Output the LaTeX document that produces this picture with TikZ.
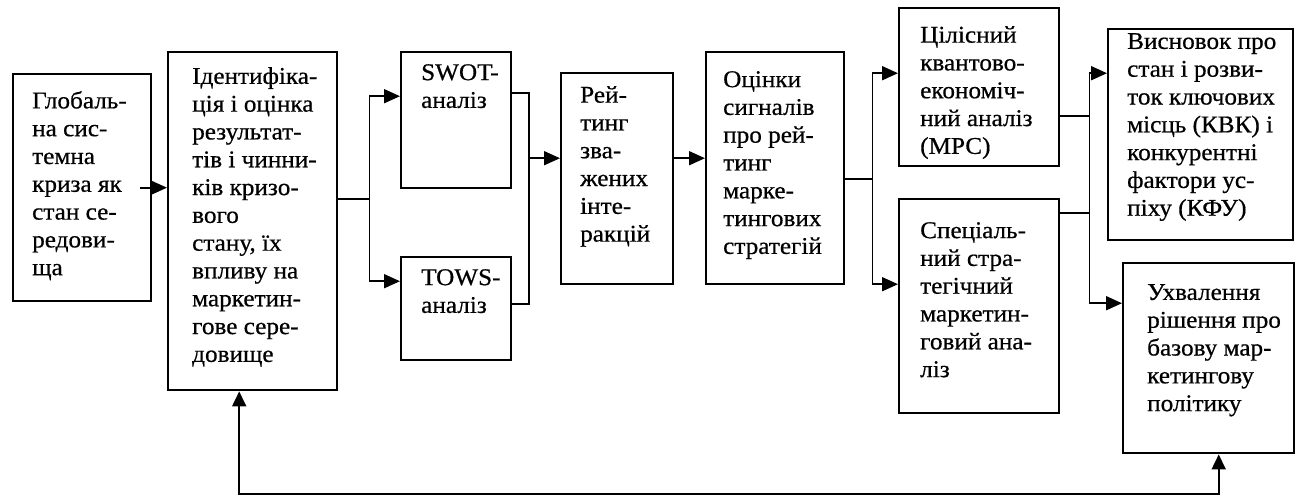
\documentclass[tikz,border=0pt]{standalone}
\usepackage{fontspec}
\setmainfont{Liberation Serif}[FakeStretch=1.05,FakeBold=0.6]
\usetikzlibrary{arrows.meta,calc}
\begin{document}
\begin{tikzpicture}[x=1pt,y=-1pt,
 box/.style={draw, line width=2.4pt, inner sep=0pt, anchor=north west},
 txt/.style={anchor=north west, inner sep=0pt, align=left, font=\fontsize{24}{27.8}\selectfont},
 conn/.style={line width=1.8pt},
 arr/.style={conn, -{Triangle[length=16pt,width=14pt]}},
 darr/.style={conn, {Triangle[length=15pt,width=14pt]}-{Triangle[length=15pt,width=14pt]}}
]
\useasboundingbox (0,0) rectangle (1295,496);

% boxes
\node[box, minimum width=138pt, minimum height=227pt] (glob) at (12,73) {};
\node[box, minimum width=169pt, minimum height=338pt] (ident) at (167,51) {};
\node[box, minimum width=110pt, minimum height=136pt] (swot) at (400,51) {};
\node[box, minimum width=110pt, minimum height=103pt] (tows) at (400,256) {};
\node[box, minimum width=112pt, minimum height=211pt] (rating) at (560,72) {};
\node[box, minimum width=138pt, minimum height=232pt] (signals) at (705,51) {};
\node[box, minimum width=160pt, minimum height=158pt] (mpc) at (898,7) {};
\node[box, minimum width=160pt, minimum height=214pt] (spec) at (898,198) {};
\node[box, minimum width=185pt, minimum height=211pt] (visn) at (1107,28) {};
\node[box, minimum width=171pt, minimum height=190pt] (uhv) at (1122,262) {};

% texts
\node[txt] (glob-t) at ($(glob.north west)+(20,18)$) {Глобаль-\\на сис-\\темна\\криза як\\стан се-\\редови-\\ща};
\node[txt] (ident-t) at ($(ident.north west)+(25,16)$) {Ідентифіка-\\ція і оцінка\\результат-\\тів і чинни-\\ків кризо-\\вого\\стану, їх\\впливу на\\маркетин-\\гове сере-\\довище};
\node[txt] (swot-t) at ($(swot.north west)+(21,13)$) {SWOT-\\аналіз};
\node[txt] (tows-t) at ($(tows.north west)+(21,13)$) {TOWS-\\аналіз};
\node[txt] (rating-t) at ($(rating.north west)+(20,14)$) {Рей-\\тинг\\зва-\\жених\\інте-\\ракцій};
\node[txt] (signals-t) at ($(signals.north west)+(18,20)$) {Оцінки\\сигналів\\про рей-\\тинг\\марке-\\тингових\\стратегій};
\node[txt] (mpc-t) at ($(mpc.north west)+(22,19)$) {Цілісний\\квантово-\\економіч-\\ний аналіз\\(МРС)};
\node[txt] (spec-t) at ($(spec.north west)+(22,24)$) {Спеціаль-\\ний стра-\\тегічний\\маркетин-\\говий ана-\\ліз};
\node[txt] (visn-t) at ($(visn.north west)+(20,5)$) {Висновок про\\стан і розви-\\ток ключових\\місць (КВК) і\\конкурентні\\фактори ус-\\піху (КФУ)};
\node[txt] (uhv-t) at ($(uhv.north west)+(25,22)$) {Ухвалення\\рішення про\\базову мар-\\кетингову\\політику};

% glob -> ident
\coordinate (g-out) at ([xshift=-12pt]glob.east);
\draw[arr] (g-out) -- (g-out -| ident.west);

% ident -> swot / tows
\coordinate (i-out) at ([yshift=22pt]ident.east);
\coordinate (s1) at ([xshift=31pt]i-out);
\coordinate (sw-in) at ([yshift=24pt]swot.west);
\coordinate (tw-in) at ([yshift=27.5pt]tows.west);
\draw[conn] (i-out) -- (s1);
\draw[arr] (s1) |- (sw-in);
\draw[arr] (s1) |- (tw-in);

% swot / tows -> rating
\coordinate (sw-out) at ([yshift=27pt]swot.east);
\coordinate (tw-out) at ([yshift=4.5pt]tows.east);
\coordinate (r-in) at ([yshift=20.5pt]rating.west);
\coordinate (m) at ($(r-in)+(-31,0)$);
\draw[conn] (sw-out) -| (m) |- (tw-out);
\draw[arr] (m) -- (r-in);

% rating -> signals
\coordinate (r-out) at ([yshift=20.5pt]rating.east);
\draw[arr] (r-out) -- (r-out -| signals.west);

% signals -> mpc / spec
\coordinate (sg-out) at ([yshift=-11pt]signals.east);
\coordinate (s2) at ($(sg-out)+(27,0)$);
\coordinate (mpc-in) at ([yshift=14pt]mpc.west);
\coordinate (spec-in) at ([yshift=22pt]spec.west);
\draw[conn] (sg-out) -- (s2);
\draw[arr] (s2) |- (mpc-in);
\draw[arr] (s2) |- (spec-in);

% mpc / spec -> visn / uhv
\coordinate (mpc-out) at ([yshift=-29pt]mpc.east);
\coordinate (spec-out) at ([yshift=93pt]spec.east);
\coordinate (vis-in) at ([yshift=61.5pt]visn.west);
\coordinate (uhv-in) at ([yshift=55pt]uhv.west);
\coordinate (j) at ($(mpc-out)+(29,0)$);
\draw[conn] (mpc-out) -- (j);
\draw[conn] (spec-out) -- (spec-out -| j);
\draw[arr] (j) |- (vis-in);
\draw[arr] (j) |- (uhv-in);

% feedback
\coordinate (fb-u) at ([xshift=10pt]uhv.south);
\coordinate (fb-i) at ([xshift=-13.5pt]ident.south);
\coordinate (fb-y) at (0,494);
\draw[darr] (fb-i) -- (fb-i |- fb-y) -- (fb-u |- fb-y) -- (fb-u);
\end{tikzpicture}
\end{document}
